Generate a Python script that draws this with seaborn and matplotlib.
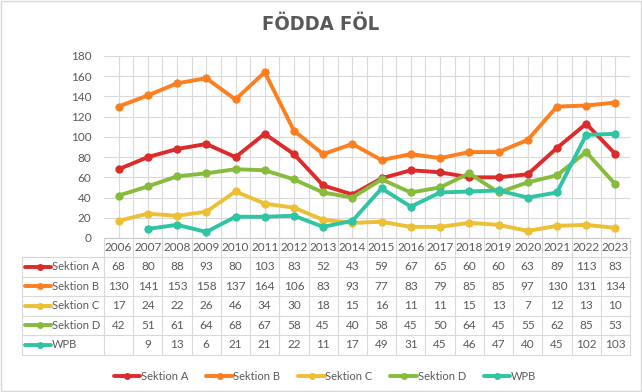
import matplotlib
matplotlib.use("Agg")
import matplotlib.pyplot as plt
import matplotlib.transforms as mtransforms
from matplotlib.lines import Line2D
from matplotlib.patches import Rectangle
import numpy as np
import pandas as pd
import seaborn as sns

years = [2006, 2007, 2008, 2009, 2010, 2011, 2012, 2013, 2014, 2015,
         2016, 2017, 2018, 2019, 2020, 2021, 2022, 2023]
sektion_a = [68, 80, 88, 93, 80, 103, 83, 52, 43, 59, 67, 65, 60, 60, 63, 89, 113, 83]
sektion_b = [130, 141, 153, 158, 137, 164, 106, 83, 93, 77, 83, 79, 85, 85, 97, 130, 131, 134]
sektion_c = [17, 24, 22, 26, 46, 34, 30, 18, 15, 16, 11, 11, 15, 13, 7, 12, 13, 10]
sektion_d = [42, 51, 61, 64, 68, 67, 58, 45, 40, 58, 45, 50, 64, 45, 55, 62, 85, 53]
wpb = [None, 9, 13, 6, 21, 21, 22, 11, 17, 49, 31, 45, 46, 47, 40, 45, 102, 103]

series_names = ["Sektion A", "Sektion B", "Sektion C", "Sektion D", "WPB"]
series_values = [sektion_a, sektion_b, sektion_c, sektion_d, wpb]
colors = ["#dd2a2a", "#fd7f1f", "#ecbf35", "#86bb3c", "#2ec4a4"]
title = "FÖDDA FÖL"
y_ticks = [0, 20, 40, 60, 80, 100, 120, 140, 160, 180]

W, H = 642, 392
TXT = "#595959"
GRID = "#d9d9d9"
FONT = ["Lato", "DejaVu Sans"]
FS = 8

sns.set_theme(style="white")
plt.rcParams["font.family"] = FONT

fig = plt.figure(figsize=(W / 100, H / 100), dpi=100)

def fx(x):
    return x / W

def fy(y):
    return 1 - y / H

ax_left, ax_right, ax_top, ax_bottom = 104, 630, 56, 238
ax = fig.add_axes([fx(ax_left), fy(ax_bottom), fx(ax_right - ax_left), (ax_bottom - ax_top) / H])

for name, vals, col in zip(series_names, series_values, colors):
    df = pd.DataFrame({"year": years, "value": [np.nan if v is None else v for v in vals]})
    sns.lineplot(data=df, x="year", y="value", ax=ax, color=col, linewidth=2.8,
                 marker="o", markersize=6, markeredgewidth=0, label=name,
                 legend=False)

ax.set_xlim(years[0] - 0.5, years[-1] + 0.5)
ax.set_ylim(y_ticks[0], y_ticks[-1])
ax.set_yticks(y_ticks)
ax.set_yticklabels([str(t) for t in y_ticks], color=TXT, fontsize=FS + 0.5)
ax.tick_params(axis="y", length=0, pad=9)
ax.set_xticks([y + 0.5 for y in years[:-1]], minor=False)
ax.set_xticks(years, minor=True)
ax.tick_params(axis="x", which="both", length=0, labelbottom=False)
ax.grid(True, axis="both", which="major", color=GRID, linewidth=0.8)
ax.grid(True, axis="x", which="minor", color=GRID, linewidth=0.8)
ax.set_axisbelow(True)
for s in ["top", "right", "left"]:
    ax.spines[s].set_visible(False)
ax.spines["bottom"].set_color("#c8c8c8")
ax.spines["bottom"].set_linewidth(0.8)
ax.set_xlabel("")
ax.set_ylabel("")

# Title
fig.text(0.5, fy(25), title, ha="center", va="center", fontsize=14.5,
         fontweight="bold", color=TXT, family=["DejaVu Sans"], fontstretch="condensed")

# Data table
bt = mtransforms.blended_transform_factory(ax.transData, fig.transFigure)
row_edges = [238, 257, 276.5, 296, 315.5, 335, 354.5]
tab_left = 22

def hline(y, x0, x1):
    fig.add_artist(Line2D([fx(x0), fx(x1)], [fy(y), fy(y)], color=GRID, lw=0.8,
                          transform=fig.transFigure))

for y in row_edges[1:]:
    hline(y, tab_left, ax_right)
fig.add_artist(Line2D([fx(tab_left)] * 2, [fy(row_edges[1]), fy(row_edges[-1])],
                      color=GRID, lw=0.8, transform=fig.transFigure))
for xe in [years[0] - 0.5] + [y + 0.5 for y in years]:
    fig.add_artist(Line2D([xe, xe], [fy(row_edges[0]), fy(row_edges[-1])],
                          color=GRID, lw=0.8, transform=bt))

yc = fy((row_edges[0] + row_edges[1]) / 2)
for yr in years:
    fig.text(yr, yc, str(yr), transform=bt, ha="center", va="center",
             fontsize=FS + 0.5, color=TXT)

for i, (name, vals, col) in enumerate(zip(series_names, series_values, colors)):
    yc = fy((row_edges[i + 1] + row_edges[i + 2]) / 2)
    fig.add_artist(Line2D([fx(25), fx(51)], [yc, yc], color=col, lw=2.8,
                          transform=fig.transFigure))
    fig.add_artist(Line2D([fx(40)], [yc], color=col, marker="o", markersize=5,
                          markeredgewidth=0, transform=fig.transFigure))
    fig.text(fx(52), yc, name, ha="left", va="center", fontsize=FS, color=TXT)
    for yr, v in zip(years, vals):
        if v is None:
            continue
        fig.text(yr, yc, str(v), transform=bt, ha="center", va="center",
                 fontsize=FS + 0.5, color=TXT)

# Legend
handles = [Line2D([0], [0], color=c, lw=2.8, marker="o", markersize=5,
                  markeredgewidth=0) for c in colors]
fig.legend(handles, series_names, loc="center", bbox_to_anchor=(fx(325), fy(376)),
           ncol=5, frameon=False, fontsize=FS, labelcolor=TXT, handlelength=2.4,
           handletextpad=0.05, columnspacing=1.6, numpoints=1)

# chart border
fig.add_artist(Rectangle((0.002, 0.003), 0.996, 0.994, transform=fig.transFigure,
                         fill=False, edgecolor=GRID, lw=1))

fig.savefig("out.png", dpi=100)
